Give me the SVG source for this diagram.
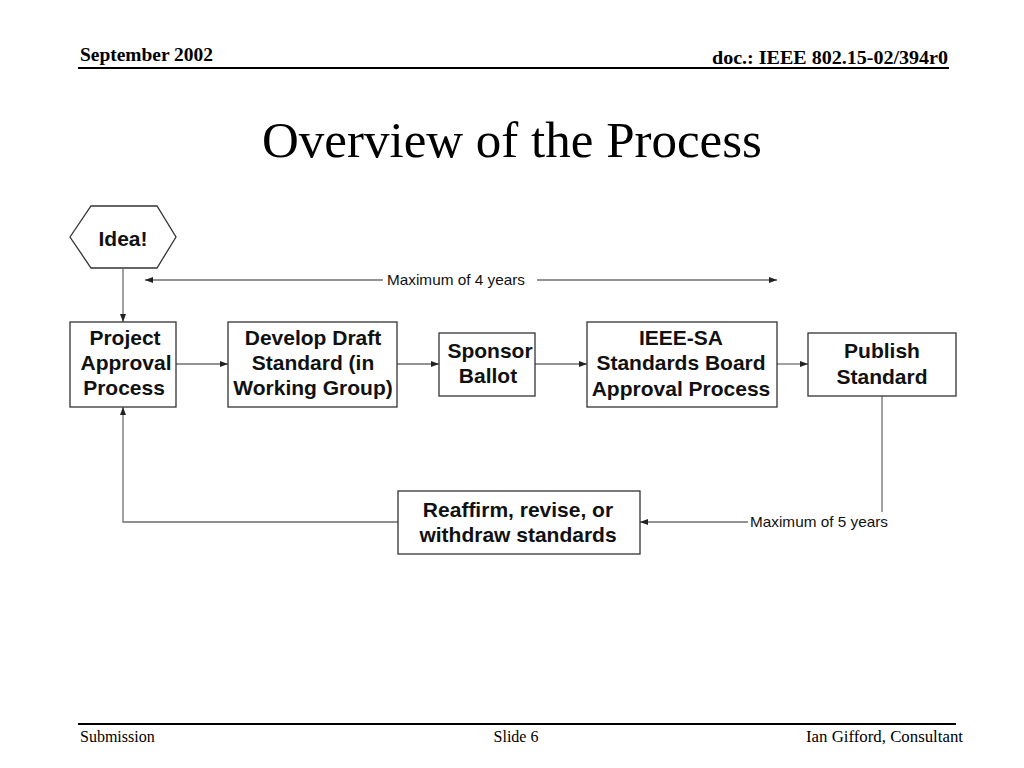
<svg xmlns="http://www.w3.org/2000/svg" width="1024" height="768" viewBox="0 0 1024 768">
<style>
.box{fill:#fff;stroke:#333;stroke-width:1.3}
.conn{fill:none;stroke:#6e6e6e;stroke-width:1.3}
.lbl{font-family:"Liberation Sans",Arial,sans-serif;font-weight:bold;font-size:21px;text-anchor:middle;fill:#111}
.small{font-family:"Liberation Sans",Arial,sans-serif;font-size:14.5px;fill:#111}
.serif{font-family:"Liberation Serif","Times New Roman",serif;fill:#000}
</style>
<defs>
<marker id="ah" viewBox="0 0 8 6" refX="8" refY="3" markerWidth="8" markerHeight="6" markerUnits="userSpaceOnUse" orient="auto">
<path d="M0,0 L8,3 L0,6 z" fill="#222"/>
</marker>
</defs>
<rect width="1024" height="768" fill="#fff"/>
<g id="header">
<text class="serif" x="80" y="61" font-size="18" font-weight="bold" textLength="133" lengthAdjust="spacingAndGlyphs">September 2002</text>
<text class="serif" x="948" y="64" font-size="18" font-weight="bold" text-anchor="end" textLength="236" lengthAdjust="spacingAndGlyphs">doc.: IEEE 802.15-02/394r0</text>
<line x1="78" y1="68" x2="949" y2="68" stroke="#000" stroke-width="2"/>
<text class="serif" x="512" y="157" font-size="51" text-anchor="middle">Overview of the Process</text>
</g>
<g id="connectors">
<path class="conn" d="M123,269 V322" marker-end="url(#ah)"/>
<path class="conn" d="M176,364 H228" marker-end="url(#ah)"/>
<path class="conn" d="M397,364 H439" marker-end="url(#ah)"/>
<path class="conn" d="M535,364 H587" marker-end="url(#ah)"/>
<path class="conn" d="M777,364 H808" marker-end="url(#ah)"/>
<path class="conn" d="M882,396 V512"/>
<path class="conn" d="M748,522 H640" marker-end="url(#ah)"/>
<path class="conn" d="M398,522 H123 V407" marker-end="url(#ah)"/>
<path class="conn" d="M383,280 H145" marker-end="url(#ah)"/>
<path class="conn" d="M537,280 H777" marker-end="url(#ah)"/>
<text class="small" x="387" y="285" textLength="138" lengthAdjust="spacingAndGlyphs">Maximum of 4 years</text>
<text class="small" x="750" y="527" textLength="138" lengthAdjust="spacingAndGlyphs">Maximum of 5 years</text>
</g>
<g id="idea">
<polygon class="box" points="70,237 91,206 157,206 176,237 157,268 91,268"/>
<text class="lbl" x="123" y="246" font-size="22">Idea!</text>
</g>
<g id="project">
<rect class="box" x="70" y="322" width="106" height="85"/>
<text class="lbl" x="125" y="345" font-size="22">Project</text>
<text class="lbl" x="126" y="370" font-size="22">Approval</text>
<text class="lbl" x="124" y="395" font-size="22">Process</text>
</g>
<g id="develop">
<rect class="box" x="228" y="322" width="169" height="85"/>
<text class="lbl" x="313" y="345">Develop Draft</text>
<text class="lbl" x="313" y="370">Standard (in</text>
<text class="lbl" x="313" y="395">Working Group)</text>
</g>
<g id="sponsor">
<rect class="box" x="439" y="333" width="96" height="63"/>
<text class="lbl" x="490" y="358" font-size="22">Sponsor</text>
<text class="lbl" x="488" y="383" font-size="22">Ballot</text>
</g>
<g id="ieeesa">
<rect class="box" x="587" y="322" width="190" height="85"/>
<text class="lbl" x="681" y="345">IEEE-SA</text>
<text class="lbl" x="681" y="370">Standards Board</text>
<text class="lbl" x="681" y="396">Approval Process</text>
</g>
<g id="publish">
<rect class="box" x="808" y="333" width="148" height="63"/>
<text class="lbl" x="882" y="358">Publish</text>
<text class="lbl" x="882" y="384">Standard</text>
</g>
<g id="reaffirm">
<rect class="box" x="398" y="491" width="242" height="63"/>
<text class="lbl" x="518" y="517">Reaffirm, revise, or</text>
<text class="lbl" x="518" y="542">withdraw standards</text>
</g>
<g id="footer">
<line x1="78" y1="724" x2="956" y2="724" stroke="#000" stroke-width="2"/>
<text class="serif" x="80" y="742" font-size="16">Submission</text>
<text class="serif" x="516" y="742" font-size="16" text-anchor="middle">Slide 6</text>
<text class="serif" x="963" y="742" font-size="16" text-anchor="end" textLength="157" lengthAdjust="spacingAndGlyphs">Ian Gifford, Consultant</text>
</g>
</svg>
